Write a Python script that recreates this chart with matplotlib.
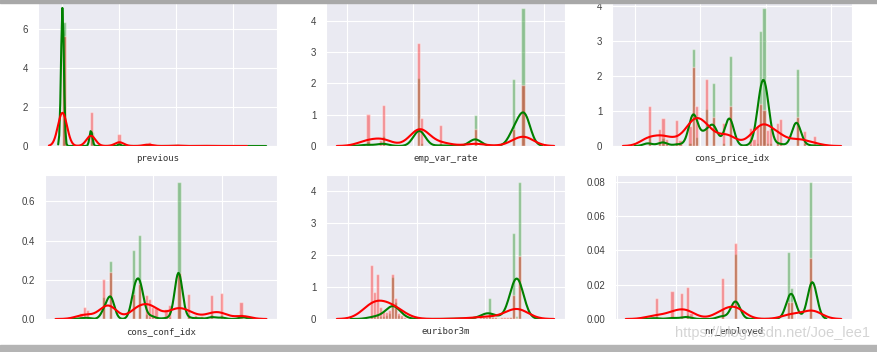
import numpy as np
import matplotlib
matplotlib.use("Agg")
import matplotlib.pyplot as plt
import seaborn as sns
from matplotlib.patches import Rectangle

# ---- data (value -> count, per class: no = green, yes = red) ----
previous_vals = [0, 1, 2, 3, 4, 5, 6, 7]
previous_no = [32422, 3594, 404, 88, 32, 5, 2, 1]
previous_yes = [3141, 967, 350, 128, 38, 13, 3, 0]

# emp_var_rate and nr_employed come from the same periods
nr_vals = [4963.6, 4991.6, 5008.7, 5017.5, 5023.5, 5076.2, 5099.1, 5176.3, 5191.0, 5195.8, 5228.1]
emp_vals = [-1.1, -1.7, -1.8, -3.4, -3.0, -2.9, -1.8, -0.2, 1.1, -0.1, 1.4]
labor_no = [328, 369, 270, 605, 84, 1074, 7346, 7, 7535, 3475, 15460]
labor_yes = [307, 404, 380, 466, 88, 589, 1104, 3, 246, 246, 882]

# cons_price_idx and cons_conf_idx come from the same months
cpi_vals = [92.201, 92.379, 92.431, 92.469, 92.649, 92.713, 92.756, 92.843, 92.893, 92.963,
            93.075, 93.2, 93.369, 93.444, 93.749, 93.798, 93.876, 93.918, 93.994, 94.027,
            94.055, 94.199, 94.215, 94.465, 94.601, 94.767]
cci_vals = [-31.4, -29.8, -26.9, -33.6, -30.1, -33.0, -45.9, -50.0, -46.2, -40.8,
            -47.1, -42.0, -34.8, -36.1, -34.6, -40.4, -40.0, -42.7, -36.4, -38.3,
            -39.8, -37.5, -40.3, -41.8, -49.5, -50.8]
month_no = [475, 146, 439, 110, 219, 110, 7, 183, 5263, 475,
            2010, 3399, 183, 4897, 110, 37, 146, 6250, 7492, 146,
            146, 183, 183, 4203, 146, 73]
month_yes = [264, 111, 186, 46, 172, 37, 1, 130, 520, 264,
             441, 190, 153, 264, 121, 46, 130, 280, 237, 107,
             121, 153, 176, 190, 97, 65]

euribor_vals = [0.634, 0.75, 0.85, 0.94, 1.03, 1.12, 1.2, 1.281, 1.405, 1.453, 1.56, 1.64,
                2.0, 3.05, 3.4, 3.65, 3.85, 3.95, 4.02, 4.076, 4.191, 4.3, 4.36, 4.45,
                4.55, 4.63, 4.74, 4.857, 4.92, 4.962, 5.045]
euribor_no = [300, 350, 450, 350, 280, 450, 600, 4500, 1773, 450, 250, 120,
              20, 97, 97, 161, 150, 200, 350, 2192, 450, 180, 129, 97,
              97, 97, 161, 9200, 322, 14600, 1]
euribor_yes = [760, 380, 630, 170, 115, 100, 120, 640, 300, 85, 55, 35,
               10, 20, 30, 40, 40, 30, 25, 90, 30, 25, 20, 25,
               25, 25, 30, 335, 20, 880, 1]

panels = [
    ("previous", previous_vals, previous_no, previous_yes),
    ("emp_var_rate", emp_vals, labor_no, labor_yes),
    ("cons_price_idx", cpi_vals, month_no, month_yes),
    ("cons_conf_idx", cci_vals, month_no, month_yes),
    ("euribor3m", euribor_vals, euribor_no, euribor_yes),
    ("nr_employed", nr_vals, labor_no, labor_yes),
]


def kde_curve(vals, counts):
    vals = np.asarray(vals, dtype=float)
    counts = np.asarray(counts)
    data = np.repeat(vals, counts)
    bw = data.std(ddof=1) * len(data) ** (-1 / 5)
    grid = np.linspace(data.min() - 3 * bw, data.max() + 3 * bw, 200)
    w = counts / counts.sum()
    z = (grid[:, None] - vals[None, :]) / bw
    dens = (w[None, :] * np.exp(-0.5 * z ** 2)).sum(axis=1) / (bw * np.sqrt(2 * np.pi))
    return grid, dens


sns.set_style("darkgrid")
plt.rcParams["font.family"] = ["DejaVu Sans Mono"]

fig = plt.figure(figsize=(8.78, 3.52), dpi=100)
W, H = 878.0, 352.0
boxes = [(38, 1, 277, 146), (326, 1, 565, 146), (612, 1, 852, 146),
         (45, 175, 277, 319), (326, 175, 565, 319), (615, 175, 852, 319)]

for (name, vals, c_no, c_yes), (x0, y0, x1, y1) in zip(panels, boxes):
    ax = fig.add_axes([x0 / W, 1 - y1 / H, (x1 - x0) / W, (y1 - y0) / H])
    for counts, col in [(c_no, "g"), (c_yes, "r")]:
        data = np.repeat(np.asarray(vals, dtype=float), counts)
        ax.hist(data, bins=50, density=True, color=col, alpha=0.4)
        gx, gy = kde_curve(vals, counts)
        ax.plot(gx, gy, color=col, lw=1.5)
    ax.tick_params(axis="x", labelbottom=False)
    ax.tick_params(axis="y", labelsize=7, colors=".25")
    for lab in ax.get_yticklabels():
        lab.set_family("Liberation Sans")
    ax.set_xlabel(name, fontsize=6.5, color=".2", labelpad=6)

# screenshot frame
fig.patches.append(Rectangle((0, 1 - 3 / H), 1, 3 / H, transform=fig.transFigure,
                             color="#a8a8a8", zorder=10))
fig.patches.append(Rectangle((0, 0), 1, 7 / H, transform=fig.transFigure,
                             color="#b4b4b4", zorder=10))
fig.text(0.991, 1 - 333 / H, "https://blog.csdn.net/Joe_lee1", ha="right", va="center",
         fontsize=10.5, family="Liberation Sans", color="#d0d0d0", alpha=0.9)

fig.savefig("out.png", dpi=100)
